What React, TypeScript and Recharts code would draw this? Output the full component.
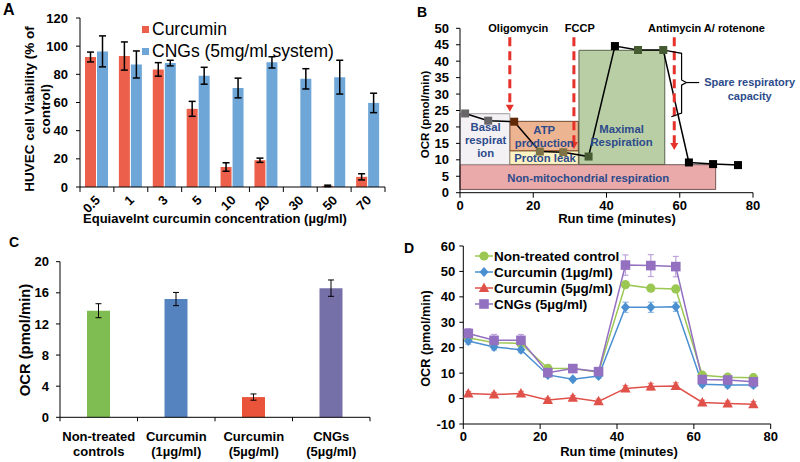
import React from 'react';
import {
  BarChart, Bar, XAxis, YAxis, ErrorBar, Legend, Cell,
  ComposedChart, Line, Area, ReferenceArea, ReferenceLine, Scatter,
} from 'recharts';

const FONT = '"Liberation Sans", Arial, Helvetica, sans-serif';
const TICK = { fontSize: 13, fontWeight: 700, fill: '#000', fontFamily: FONT };
const AXIS_LINE = { stroke: '#000', strokeWidth: 1 };
const TICK_LINE = { stroke: '#000', strokeWidth: 1 };

// ---------------- Panel A data ----------------
const aConcentrations = ['0.5', '1', '3', '5', '10', '20', '30', '50', '70'];
const aCurcumin = [92.3, 93.0, 83.5, 55.5, 14.2, 19.0, 0, 0.8, 7.2];
const aCurcuminErr = [3.5, 10.0, 4.8, 5.3, 3.0, 1.5, 0, 0.5, 2.2];
const aCNGs = [96.3, 87.0, 88.0, 79.0, 70.3, 88.5, 76.8, 78.0, 59.7];
const aCNGsErr = [11.0, 9.6, 2.0, 6.0, 7.0, 4.0, 7.2, 12.0, 6.9];
const aSeriesKeys = ['cur', 'cng'];
const aSeriesNames = ['Curcumin', 'CNGs (5mg/ml system)'];
const aYTicks = [0, 20, 40, 60, 80, 100, 120];
const aYTitleLines = ['HUVEC cell Viability (% of', 'control)'];

// ---------------- Panel B data ----------------
const bTime = [1.4, 7.7, 14.8, 21.8, 28.2, 35.1, 42.3, 48.6, 55.5, 62.5, 69.1, 75.9];
const bOCR = [24.1, 21.9, 21.6, 12.5, 12.3, 11.0, 44.6, 43.4, 43.4, 9.2, 8.7, 8.4];
const bXTicks = [0, 20, 40, 60, 80];
const bYTicks = [0, 5, 10, 15, 20, 25, 30, 35, 40, 45, 50];
const bRegionNames = ['nonmito', 'basal', 'atp', 'proton', 'maximal'];
const bRegionX1 = [0, 0, 13.6, 13.6, 32.5];
const bRegionX2 = [69.8, 13.6, 32.3, 32.3, 55.9];
const bRegionY1 = [1.0, 8.6, 12.7, 8.6, 8.6];
const bRegionY2 = [8.5, 24.0, 21.7, 12.7, 43.3];
const bRegionLabelLines = [
  ['Non-mitochondrial respiration'],
  ['Basal', 'respirat', 'ion'],
  ['ATP', 'production'],
  ['Proton leak'],
  ['Maximal', 'Respiration'],
];
const bRegionLabelX = [35.0, 7.0, 23.0, 23.2, 44.1];
const bRegionLabelY = [4.5, 16.0, 17.0, 10.5, 17.5];
const bInjectionNames = ['Oligomycin', 'FCCP', 'Antimycin A/ rotenone'];
const bInjectionTime = [13.6, 31.1, 58.5];
const bInjectionTip = [24.6, 13.3, 13.0];
const bInjectionLabelX = [15.9, 32.7, 67.3];
const bInjectionLabelY = 50;
const bArrowTop = 47.3;
const bBraceX = [56.4, 60.5, 60.5, 61.8, 60.5, 60.5, 57.7];
const bBraceY = [43.2, 42.4, 34.3, 33.5, 32.7, 24.2, 23.1];
const bPointerX = [61.8, 65.3];
const bPointerY = [33.5, 33.5];
const bSpareLabel = ['Spare respiratory', 'capacity'];
const bSpareLabelX = 79.1;
const bSpareLabelY = 31.4;

// ---------------- Panel C data ----------------
const cGroups = ['Non-treated\ncontrols', 'Curcumin\n(1µg/ml)', 'Curcumin\n(5µg/ml)', 'CNGs\n(5µg/ml)'];
const cOCR = [13.7, 15.2, 2.6, 16.6];
const cOCRErr = [0.9, 0.85, 0.4, 1.05];
const cYTicks = [0, 4, 8, 12, 16, 20];

// ---------------- Panel D data ----------------
const dTime = [1.3, 8.0, 15.0, 22.0, 28.5, 35.2, 42.2, 48.8, 55.3, 62.2, 68.8, 75.5];
const dControl = [23.9, 22.0, 21.7, 11.9, 11.8, 10.4, 44.8, 43.4, 43.1, 9.2, 8.4, 8.2];
const dControlErr = [1.0, 0.9, 0.9, 0.8, 0.7, 0.7, 1.0, 1.0, 1.0, 0.7, 0.6, 0.6];
const dCur1 = [22.6, 20.3, 19.2, 9.3, 7.6, 8.9, 35.9, 35.9, 36.1, 5.6, 5.3, 5.3];
const dCur1Err = [1.2, 1.2, 1.2, 0.9, 0.7, 0.9, 2.0, 2.0, 1.8, 0.8, 1.0, 1.0];
const dCur5 = [2.0, 1.6, 2.0, -0.6, 0.3, -1.1, 4.0, 4.7, 4.9, -1.5, -1.9, -2.2];
const dCur5Err = [0.8, 0.8, 0.8, 0.9, 0.9, 0.9, 1.1, 1.3, 1.3, 0.9, 0.9, 1.0];
const dCNGs = [25.6, 22.9, 22.9, 10.2, 11.8, 10.6, 52.5, 52.3, 51.9, 7.5, 7.3, 6.6];
const dCNGsErr = [1.9, 2.3, 2.3, 1.0, 1.0, 1.0, 4.0, 4.3, 4.0, 0.9, 0.9, 0.9];
const dSeriesKeys = ['ctl', 'cur1', 'cur5', 'cng'];
const dSeriesNames = ['Non-treated control', 'Curcumin (1µg/ml)', 'Curcumin (5µg/ml)', 'CNGs (5µg/ml)'];
const dXTicks = [0, 20, 40, 60, 80];
const dYTicks = [-10, 0, 10, 20, 30, 40, 50, 60];

// ---------------- styles ----------------
const A_COLORS: Record<string, string> = { cur: '#EC604B', cng: '#6FA6D8' };
const C_COLORS = ['#7FBC51', '#5483BF', '#E9543A', '#7670A9'];
const D_COLORS: Record<string, string> = { ctl: '#9BC753', cur1: '#4A8FD0', cur5: '#E0514A', cng: '#9370C0' };
const D_ERR_COLORS: Record<string, string> = { ctl: '#B7D98C', cur1: '#8DB9E4', cur5: '#EC8E88', cng: '#BCA3DB' };
const B_REGION_STYLE: Record<string, { fill: string; opacity: number; stroke: string }> = {
  nonmito: { fill: '#D65555', opacity: 0.5, stroke: '#555' },
  basal: { fill: '#E6E0E8', opacity: 0.45, stroke: '#8a8a8a' },
  atp: { fill: '#D7590A', opacity: 0.45, stroke: '#444' },
  proton: { fill: '#FFE88A', opacity: 0.5, stroke: '#444' },
  maximal: { fill: '#80A65B', opacity: 0.55, stroke: '#444' },
};
const B_TEXT_BLUE = '#2D4B8B';
const B_RED = '#E5312A';

// colour of a black mark seen through a translucent region fill
const tintOverBlack = (hex: string, a: number) => {
  const n = parseInt(hex.slice(1), 16);
  const r = Math.round(((n >> 16) & 255) * a);
  const g = Math.round(((n >> 8) & 255) * a);
  const b = Math.round((n & 255) * a);
  return `rgb(${r},${g},${b})`;
};
const regionTintAt = (x: number, y: number) => {
  const tol = 0.15;
  for (let i = bRegionNames.length - 1; i >= 0; i -= 1) {
    if (x >= bRegionX1[i] && x <= bRegionX2[i] && y >= bRegionY1[i] - tol && y <= bRegionY2[i] + tol) {
      const s = B_REGION_STYLE[bRegionNames[i]];
      return tintOverBlack(s.fill, s.opacity);
    }
  }
  return '#000';
};

// ---------------- helpers ----------------
const yTitle = (lines: string[], xs: number[], dy: number, size: number) => (props: any) => {
  const vb = props.viewBox || { x: 0, y: 0, width: 0, height: 0 };
  const cy = vb.y + vb.height / 2 + dy;
  return (
    <g>
      {lines.map((t, i) => {
        const x = xs[i];
        return (
          <text key={i} x={x} y={cy + size * 0.36} transform={`rotate(-90 ${x} ${cy})`} textAnchor="middle"
            style={{ fontFamily: FONT, fontSize: size, fontWeight: 700 }} fill="#000">{t}</text>
        );
      })}
    </g>
  );
};

const xTitle = (text: string, dx: number, dy: number, size: number) => (props: any) => {
  const vb = props.viewBox || { x: 0, y: 0, width: 0, height: 0 };
  const cx = vb.x + vb.width / 2 + dx;
  const cy = vb.y + dy;
  return (
    <text x={cx} y={cy + size * 0.36} textAnchor="middle"
      style={{ fontFamily: FONT, fontSize: size, fontWeight: 700 }} fill="#000">{text}</text>
  );
};

const halfBand = (props: any) => {
  const off = props.payload && props.payload.offset;
  if (off && off > 0) return off;
  const n = props.visibleTicksCount || 1;
  return (props.width || 0) / n / 2;
};

const ATick = (props: any) => {
  const { x, y, payload, index, visibleTicksCount } = props;
  const h = halfBand(props);
  const ax = x + 4;
  const ay = y + 14;
  return (
    <g>
      <line x1={x - h} y1={y} x2={x - h} y2={y + 5} stroke="#000" />
      {index === visibleTicksCount - 1 && <line x1={x + h} y1={y} x2={x + h} y2={y + 5} stroke="#000" />}
      <text x={ax} y={ay} transform={`rotate(-45 ${ax} ${ay})`} textAnchor="end"
        style={{ fontFamily: FONT, fontSize: 13, fontWeight: 700 }} fill="#000">{payload.value}</text>
    </g>
  );
};

const CTick = (props: any) => {
  const { x, y, payload, index, visibleTicksCount } = props;
  const h = halfBand(props);
  const lines = String(payload.value).split('\n');
  return (
    <g>
      <line x1={x - h} y1={y} x2={x - h} y2={y + 4} stroke="#000" />
      {index === visibleTicksCount - 1 && <line x1={x + h} y1={y} x2={x + h} y2={y + 4} stroke="#000" />}
      {lines.map((t, i) => (
        <text key={i} x={x} y={y + 19 + i * 15 + 4.7} textAnchor="middle"
          style={{ fontFamily: FONT, fontSize: 13, fontWeight: 700 }} fill="#000">{t}</text>
      ))}
    </g>
  );
};

const sortByKeys = (payload: any[], keys: string[]) =>
  [...(payload || [])].sort((a, b) => keys.indexOf(String(a.dataKey)) - keys.indexOf(String(b.dataKey)));

// ---------------- Panel A ----------------
const aData = aConcentrations.map((c, i) => ({
  cat: c, cur: aCurcumin[i], curErr: aCurcuminErr[i], cng: aCNGs[i], cngErr: aCNGsErr[i],
}));

const ALegend = (props: any) => (
  <div style={{ fontFamily: FONT }}>
    {sortByKeys(props.payload, aSeriesKeys).map((e: any, i: number) => (
      <div key={i} style={{ display: 'flex', alignItems: 'center', height: 22 }}>
        <span style={{ display: 'inline-block', width: 7, height: 7, background: A_COLORS[String(e.dataKey)], marginRight: 3 }} />
        <span style={{ fontSize: 17.5, color: '#000', whiteSpace: 'nowrap' }}>{e.value}</span>
      </div>
    ))}
  </div>
);

function PanelA() {
  return (
    <BarChart width={400} height={230} data={aData} margin={{ top: 18, right: 15, bottom: 0, left: 0 }}
      barCategoryGap={5} barGap={1}>
      <XAxis dataKey="cat" height={43} interval={0} tickLine={false} tickSize={0} tickMargin={0}
        axisLine={AXIS_LINE} tick={<ATick />}
        label={xTitle('Equiavelnt curcumin concentration (µg/ml)', -17.5, 31, 13)} />
      <XAxis xAxisId="top" dataKey="cat" orientation="top" height={0} tick={false} tickLine={false} axisLine={AXIS_LINE} />
      <YAxis domain={[0, 120]} ticks={aYTicks} width={80} tick={TICK} tickSize={4} tickMargin={8}
        axisLine={AXIS_LINE} tickLine={TICK_LINE} />
      <YAxis yAxisId="right" orientation="right" width={0} domain={[0, 1]} tick={false} tickLine={false} axisLine={AXIS_LINE} />
      <Legend layout="vertical" align="center" verticalAlign="middle" content={ALegend}
        wrapperStyle={{ left: 142, top: 18, width: 'auto' }} />
      {aSeriesKeys.map((k, i) => (
        <Bar key={k} dataKey={k} name={aSeriesNames[i]} fill={A_COLORS[k]} isAnimationActive={false}>
          <ErrorBar dataKey={`${k}Err`} width={3.5} stroke="#000" strokeWidth={1.5} direction="y" />
        </Bar>
      ))}
    </BarChart>
  );
}

// ---------------- Panel B ----------------
const bLineData = bTime.map((t, i) => ({ x: t, y: bOCR[i] }));
const bBraceData = bBraceX.map((x, i) => ({ x, y: bBraceY[i] }));
const bPointerData = bPointerX.map((x, i) => ({ x, y: bPointerY[i] }));
const bRegionFillData = bRegionNames.map((n, i) => [
  { x: bRegionX1[i], r: [bRegionY1[i], bRegionY2[i]] },
  { x: bRegionX2[i], r: [bRegionY1[i], bRegionY2[i]] },
]);
const bRegionLabelData = bRegionNames.map((n, i) => ({ x: bRegionLabelX[i], y: bRegionLabelY[i], lines: bRegionLabelLines[i] }));
const bInjectionLabelData = bInjectionNames.map((n, i) => ({ x: bInjectionLabelX[i], y: bInjectionLabelY, lines: [n] }));
const bArrowTipData = bInjectionTime.map((t, i) => ({ x: t, y: bInjectionTip[i] }));
const bSpareData = [{ x: bSpareLabelX, y: bSpareLabelY, lines: bSpareLabel }];

const multiLineText = (size: number, color: string, lh: number) => (p: any) => {
  const { cx, cy, payload } = p;
  if (cx == null || cy == null) return <g />;
  const lines: string[] = payload.lines;
  const y0 = cy - ((lines.length - 1) * lh) / 2;
  return (
    <text textAnchor="middle" style={{ fontFamily: FONT, fontSize: size, fontWeight: 700 }} fill={color}>
      {lines.map((t, i) => (
        <tspan key={i} x={cx} y={y0 + i * lh + size * 0.36}>{t}</tspan>
      ))}
    </text>
  );
};

const ArrowHead = (p: any) => {
  const { cx, cy } = p;
  if (cx == null || cy == null) return <g />;
  return <polygon points={`${cx - 4},${cy - 7} ${cx + 4},${cy - 7} ${cx},${cy}`} fill={B_RED} />;
};

const tintedSquare = (p: any) => {
  if (p.cx == null || p.cy == null) return <g key={`bs${p.index}`} />;
  const d = p.payload || {};
  const fill = regionTintAt(d.x, d.y);
  return <rect key={`bs${p.index}`} x={p.cx - 4} y={p.cy - 4} width={8} height={8} fill={fill} />;
};

function PanelB() {
  return (
    <ComposedChart width={400} height={230} margin={{ top: 28.3, right: 47, bottom: 0, left: 0 }}>
      <XAxis type="number" dataKey="x" domain={[0, 80]} ticks={bXTicks} height={37.3} tick={TICK}
        tickSize={5} tickMargin={3} axisLine={AXIS_LINE} tickLine={TICK_LINE}
        label={xTitle('Run time (minutes)', 10.5, 26, 13)} />
      <YAxis type="number" domain={[0, 50]} ticks={bYTicks} width={60} tick={TICK} tickSize={4} tickMargin={7}
        axisLine={AXIS_LINE} tickLine={TICK_LINE} interval={0}
        label={yTitle(['OCR (pmol/min)'], [25], 4, 11.5)} />
      {bRegionNames.map((n, i) => (
        <ReferenceArea key={`rb${n}`} x1={bRegionX1[i]} x2={bRegionX2[i]} y1={bRegionY1[i]} y2={bRegionY2[i]}
          fill="none" fillOpacity={0} stroke={B_REGION_STYLE[n].stroke} strokeOpacity={1} strokeWidth={1}
          ifOverflow="visible" />
      ))}
      <Line data={bLineData} dataKey="y" stroke="#000" strokeWidth={1.5} dot={tintedSquare}
        isAnimationActive={false} />
      {bRegionNames.map((n, i) => (
        <Area key={`rf${n}`} data={bRegionFillData[i]} dataKey="r" type="linear" stroke="none"
          fill={B_REGION_STYLE[n].fill} fillOpacity={B_REGION_STYLE[n].opacity}
          dot={false} activeDot={false} isAnimationActive={false} />
      ))}
      {bInjectionTime.map((t, i) => (
        <ReferenceLine key={`inj${i}`} segment={[{ x: t, y: bArrowTop }, { x: t, y: bInjectionTip[i] + 1.6 }]}
          stroke={B_RED} strokeWidth={3} strokeDasharray="9 5" ifOverflow="visible" />
      ))}
      <Line data={bBraceData} dataKey="y" stroke="#000" strokeWidth={1.2} dot={false} isAnimationActive={false} />
      <Line data={bPointerData} dataKey="y" stroke="#000" strokeWidth={1.2} dot={false} isAnimationActive={false} />
      <Scatter data={bArrowTipData} dataKey="y" shape={ArrowHead} isAnimationActive={false} />
      <Scatter data={bRegionLabelData} dataKey="y" shape={multiLineText(11.3, B_TEXT_BLUE, 12.8)} isAnimationActive={false} />
      <Scatter data={bInjectionLabelData} dataKey="y" shape={multiLineText(11, '#000', 12)} isAnimationActive={false} />
      <Scatter data={bSpareData} dataKey="y" shape={multiLineText(11, B_TEXT_BLUE, 14)} isAnimationActive={false} />
    </ComposedChart>
  );
}

// ---------------- Panel C ----------------
const cData = cGroups.map((g, i) => ({ cat: g, v: cOCR[i], e: cOCRErr[i] }));

function PanelC() {
  return (
    <BarChart width={400} height={232} data={cData} margin={{ top: 31.7, right: 30, bottom: 0, left: 0 }}>
      <XAxis dataKey="cat" height={44.7} interval={0} tickLine={false} tickSize={0} tickMargin={0}
        axisLine={AXIS_LINE} tick={<CTick />} />
      <XAxis xAxisId="top" dataKey="cat" orientation="top" height={0} tick={false} tickLine={false} axisLine={AXIS_LINE} />
      <YAxis domain={[0, 20]} ticks={cYTicks} width={60} tick={TICK} tickSize={4} tickMargin={7}
        axisLine={AXIS_LINE} tickLine={TICK_LINE}
        label={yTitle(['OCR (pmol/min)'], [25], 0.5, 14.8)} />
      <YAxis yAxisId="right" orientation="right" width={0} domain={[0, 1]} tick={false} tickLine={false} axisLine={AXIS_LINE} />
      <Bar dataKey="v" barSize={23} isAnimationActive={false}>
        {cData.map((d, i) => <Cell key={i} fill={C_COLORS[i]} />)}
        <ErrorBar dataKey="e" width={3} stroke="#000" strokeWidth={1} direction="y" />
      </Bar>
    </BarChart>
  );
}

// ---------------- Panel D ----------------
const dData = dTime.map((t, i) => ({
  x: t,
  ctl: dControl[i], ctlErr: dControlErr[i],
  cur1: dCur1[i], cur1Err: dCur1Err[i],
  cur5: dCur5[i], cur5Err: dCur5Err[i],
  cng: dCNGs[i], cngErr: dCNGsErr[i],
}));

const drawMarker = (key: string, cx: number, cy: number, color: string) => {
  switch (key) {
    case 'ctl':
      return <circle cx={cx} cy={cy} r={4.6} fill={color} />;
    case 'cur1':
      return <polygon points={`${cx},${cy - 5} ${cx + 4.5},${cy} ${cx},${cy + 5} ${cx - 4.5},${cy}`} fill={color} />;
    case 'cur5':
      return <polygon points={`${cx},${cy - 5.5} ${cx + 5.2},${cy + 4} ${cx - 5.2},${cy + 4}`} fill={color} />;
    default:
      return <rect x={cx - 4.8} y={cy - 4.8} width={9.6} height={9.6} fill={color} />;
  }
};

const markerDot = (key: string) => (p: any) => {
  if (p.cx == null || p.cy == null) return <g key={`${key}${p.index}`} />;
  return <g key={`${key}${p.index}`}>{drawMarker(key, p.cx, p.cy, D_COLORS[key])}</g>;
};

const DLegend = (props: any) => (
  <div style={{ fontFamily: FONT }}>
    {sortByKeys(props.payload, dSeriesKeys).map((e: any, i: number) => {
      const key = String(e.dataKey);
      return (
        <div key={i} style={{ display: 'flex', alignItems: 'center', height: 16 }}>
          <svg width={18} height={12} style={{ display: 'block' }}>
            <line x1={0} y1={6} x2={18} y2={6} stroke={D_COLORS[key]} strokeWidth={1.5} />
            {drawMarker(key, 9, 6, D_COLORS[key])}
          </svg>
          <span style={{ marginLeft: 1, fontSize: 13.5, fontWeight: 700, color: '#000', whiteSpace: 'nowrap' }}>{e.value}</span>
        </div>
      );
    })}
  </div>
);

function PanelD() {
  return (
    <ComposedChart width={400} height={232} data={dData} margin={{ top: 16, right: 29.3, bottom: 0, left: 0 }}>
      <XAxis type="number" dataKey="x" domain={[0, 80]} ticks={dXTicks} height={38} tick={TICK}
        tickSize={5} tickMargin={3} axisLine={AXIS_LINE} tickLine={TICK_LINE}
        label={xTitle('Run time (minutes)', 2, 27, 13)} />
      <XAxis xAxisId="top" type="number" dataKey="x" orientation="top" domain={[0, 80]} height={0}
        tick={false} tickLine={false} axisLine={AXIS_LINE} />
      <YAxis type="number" domain={[-10, 60]} ticks={dYTicks} width={63.3} tick={TICK} tickSize={4} tickMargin={4}
        axisLine={AXIS_LINE} tickLine={TICK_LINE} interval={0}
        label={yTitle(['OCR (pmol/min)'], [25], 3.5, 12.7)} />
      <YAxis yAxisId="right" orientation="right" width={0} domain={[0, 1]} tick={false} tickLine={false} axisLine={AXIS_LINE} />
      <Legend layout="vertical" align="center" verticalAlign="middle" content={DLegend}
        wrapperStyle={{ left: 75, top: 18, width: 'auto' }} />
      {dSeriesKeys.map((k, i) => (
        <Line key={k} dataKey={k} name={dSeriesNames[i]} stroke={D_COLORS[k]} strokeWidth={1.5}
          dot={markerDot(k)} activeDot={false} isAnimationActive={false}>
          <ErrorBar dataKey={`${k}Err`} direction="y" width={3} stroke={D_ERR_COLORS[k]} strokeWidth={1.2} />
        </Line>
      ))}
    </ComposedChart>
  );
}

// ---------------- App ----------------
const PANEL_LETTERS = [
  { t: 'A', x: 3, y: 15, s: 16 },
  { t: 'B', x: 417, y: 17, s: 14 },
  { t: 'C', x: 9, y: 247, s: 14 },
  { t: 'D', x: 404, y: 253, s: 14 },
];
const A_TITLE_X = [29, 45];
const A_TITLE_CY = 109;
const A_TITLE_SIZE = 13.5;

export default function App() {
  return (
    <div style={{ position: 'absolute', left: 0, top: 0, width: 800, height: 462, background: '#fff', overflow: 'hidden', fontFamily: FONT }}>
      <div style={{ position: 'absolute', left: 0, top: 0 }}><PanelA /></div>
      <div style={{ position: 'absolute', left: 400, top: 0 }}><PanelB /></div>
      <div style={{ position: 'absolute', left: 0, top: 230 }}><PanelC /></div>
      <div style={{ position: 'absolute', left: 400, top: 230 }}><PanelD /></div>
      <svg width={800} height={462} style={{ position: 'absolute', left: 0, top: 0, pointerEvents: 'none' }}>
        {PANEL_LETTERS.map((l) => (
          <text key={l.t} x={l.x} y={l.y} style={{ fontFamily: FONT, fontSize: l.s, fontWeight: 700 }} fill="#000">{l.t}</text>
        ))}
        {aYTitleLines.map((t, i) => (
          <text key={`at${i}`} x={A_TITLE_X[i]} y={A_TITLE_CY + A_TITLE_SIZE * 0.36}
            transform={`rotate(-90 ${A_TITLE_X[i]} ${A_TITLE_CY})`} textAnchor="middle"
            style={{ fontFamily: FONT, fontSize: A_TITLE_SIZE, fontWeight: 700 }} fill="#000">{t}</text>
        ))}
      </svg>
    </div>
  );
}
